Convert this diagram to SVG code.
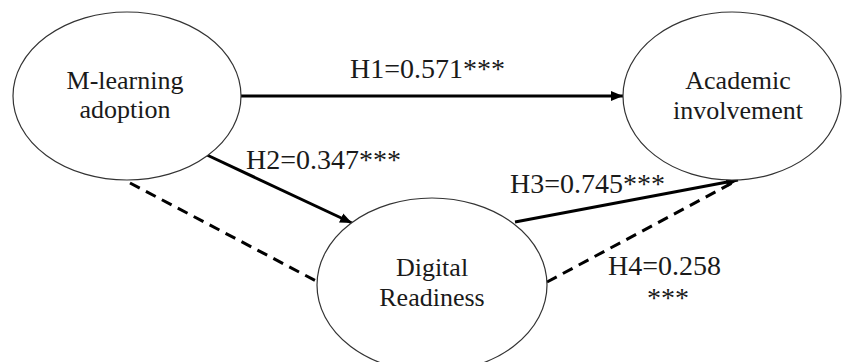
<svg xmlns="http://www.w3.org/2000/svg" width="842" height="362" viewBox="0 0 842 362">
<style>
.node{fill:#fff;stroke:#333;stroke-width:1.2}
.nt{font-size:26px;fill:#1a1a1a;text-anchor:middle}
.lb{font-size:28px;fill:#1a1a1a}
.c{stroke:#000;stroke-width:3;fill:none}
.d{stroke-dasharray:11 7}
</style>
<defs>
<marker id="ah" viewBox="0 0 12 10" refX="12" refY="5" markerWidth="12" markerHeight="10" markerUnits="userSpaceOnUse" orient="auto">
<path d="M0,0 L12,5 L0,10 Z" fill="#000"/>
</marker>
</defs>
<rect width="842" height="362" fill="#fff"/>
<g id="connectors">
<line class="c" x1="241" y1="96" x2="623" y2="96" marker-end="url(#ah)"/>
<line class="c" x1="207" y1="155" x2="352" y2="223" marker-end="url(#ah)"/>
<line class="c d" x1="130" y1="183" x2="320" y2="283"/>
<line class="c" x1="515" y1="222" x2="738" y2="180" marker-end="url(#ah)"/>
<line class="c d" x1="547" y1="282" x2="734" y2="182"/>
</g>
<g font-family="Liberation Serif, DejaVu Serif, serif">
<g id="node-mlearning">
<ellipse class="node" cx="127" cy="96" rx="114" ry="84"/>
<text class="nt" x="125" y="89" font-family="Liberation Serif, serif">M-learning</text>
<text class="nt" x="125" y="118" font-family="Liberation Serif, serif">adoption</text>
</g>
<g id="node-academic">
<ellipse class="node" cx="732" cy="96" rx="109" ry="84"/>
<text class="nt" x="738" y="89" font-family="Liberation Serif, serif">Academic</text>
<text class="nt" x="738" y="119" font-family="Liberation Serif, serif">involvement</text>
</g>
<g id="node-digital">
<ellipse class="node" cx="432" cy="285" rx="115" ry="87"/>
<text class="nt" x="432" y="276" font-family="Liberation Serif, serif">Digital</text>
<text class="nt" x="432" y="306" font-family="Liberation Serif, serif">Readiness</text>
</g>
<g id="labels">
<text class="lb" x="350" y="78" font-family="Liberation Serif, serif">H1=0.571***</text>
<text class="lb" x="246" y="169" font-family="Liberation Serif, serif">H2=0.347***</text>
<text class="lb" x="510" y="193" font-family="Liberation Serif, serif">H3=0.745***</text>
<text class="lb" x="608" y="275" font-family="Liberation Serif, serif">H4=0.258</text>
<text class="lb" x="668" y="307" text-anchor="middle" font-family="Liberation Serif, serif">***</text>
</g>
</g>
</svg>
